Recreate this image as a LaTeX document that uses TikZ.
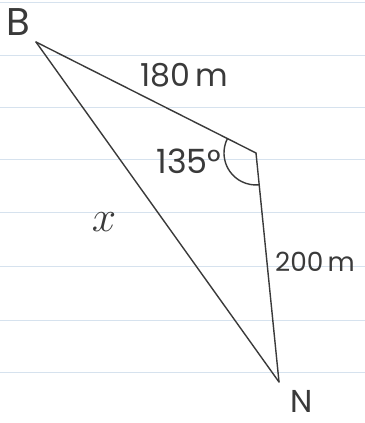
\documentclass[tikz,border=0pt]{standalone}
\usepackage{fontspec}
\setmainfont{Poppins}
\usepackage{tikz}
\usetikzlibrary{angles,positioning}
\usepackage{xcolor}
\definecolor{pencil}{HTML}{3A3A3A}
\definecolor{ruleblue}{HTML}{D6E2EE}
\tikzset{
  side/.style    = {draw=pencil, line width=0.8pt, line cap=round},
  ruling/.style  = {draw=ruleblue, line width=0.5pt},
  hand/.style    = {text=pencil, inner sep=0pt},
}

\begin{document}
\begin{tikzpicture}[x=0.02cm, y=0.02cm]
\useasboundingbox (0,0) rectangle (365,423);
% ---------------- ruled paper ----------------
\foreach \yy in {421,368,316,264,211,157,103,51}{
  \draw[ruling] (0,\yy) -- (365,\yy);}
% ---------------- triangle ----------------
\coordinate (B) at (36,381);
\coordinate (C) at (256,270);
\coordinate (N) at (279,41);
\draw[side] (B) -- (C);
\draw[side] (C) -- (N);
\draw[side] (B) -- (N);
\pic[side, angle radius=0.64cm] {angle = B--C--N};
% ---------------- labels ----------------
\node[hand, font=\fontsize{22}{24}\selectfont] (lblB) at (18,401) {B};
\node[hand, font=\fontsize{18}{20}\selectfont] (lblN) at (302,22) {N};
\node[hand, font=\fontsize{18}{22}\selectfont] (lenBC) at (184,348) {180\,m};
\node[hand, font=\fontsize{19}{22}\selectfont] (ang) at (189,262) {135°};
\node[hand, font=\fontsize{30}{32}\selectfont] (lenBN) at (104,201) {$x$};
\node[hand, font=\fontsize{15}{18}\selectfont] (lenCN) at (315,161) {200\,m};
\end{tikzpicture}
\end{document}
